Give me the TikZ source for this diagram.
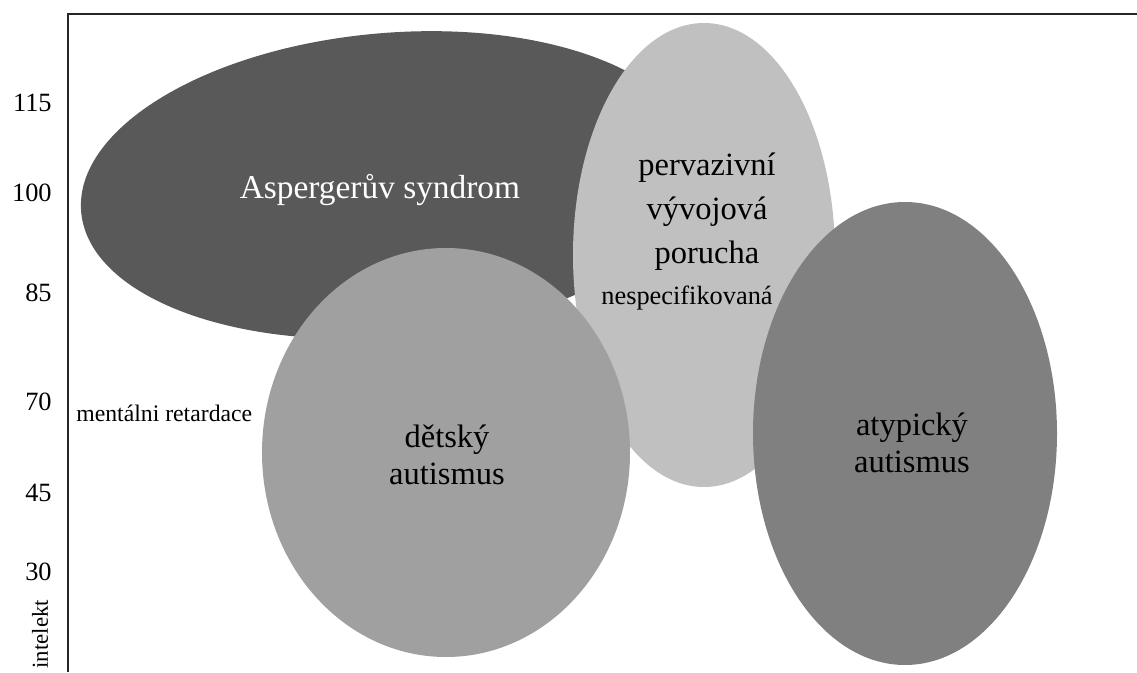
\documentclass[tikz,border=0pt]{standalone}
\usepackage{xcolor}
\usepackage{fontspec}
\setmainfont{Liberation Serif}
\usepackage{tikz}
\usetikzlibrary{positioning, shapes.geometric}
\definecolor{asp gray}{HTML}{595959}
\definecolor{pdd gray}{HTML}{C0C0C0}
\definecolor{det gray}{HTML}{A0A0A0}
\definecolor{aty gray}{HTML}{808080}
\tikzset{
blob/.style = { ellipse, draw = none, inner sep = 0pt, outer sep = 0pt },
big label/.style = { black, align = center, font = \fontsize{18.5}{21}\selectfont },
small label/.style = { black, font = \fontsize{13.5}{16}\selectfont },
axis label/.style = { black, anchor = east, inner sep = 0pt, font = \fontsize{15}{18}\selectfont },
}

\begin{document}
\begin{tikzpicture}
    \useasboundingbox (0, 0) rectangle (22.74, 13.44);
    \coordinate (frame top) at (1.36, 13.16);
    \coordinate (frame right) at (22.74, 13.16);
    \coordinate (frame bottom) at (1.36, 0.0);
    \path[draw = black!85, line width = 1pt] (frame right) -- (frame top) -- (frame bottom);
    % the four groups
    \node[blob, fill = asp gray, minimum width = 124mm, minimum height = 60.8mm, rotate = 5] (asperger) at (7.8, 9.74) {};
    \node[blob, fill = pdd gray, minimum width = 52.4mm, minimum height = 92.8mm] (pdd) at (14.08, 8.34) {};
    \node[blob, fill = det gray, minimum width = 73.6mm, minimum height = 81.8mm] (detsky) at (8.92, 4.39) {};
    \node[blob, fill = aty gray, minimum width = 60.8mm, minimum height = 92.6mm] (atypicky) at (18.1, 4.77) {};
    \node[big label, white, font = \fontsize{19}{21}\selectfont] (asp text) at (7.6, 9.64) {Aspergerův syndrom};
    \node[big label, font = \fontsize{18.5}{25}\selectfont] (pdd text) at (14.14, 9.2) {pervazivní\\vývojová\\porucha};
    \node[small label, font = \fontsize{15}{17}\selectfont] (nesp text) at (13.74, 7.48) {nespecifikovaná};
    \node[big label] (det text) at (8.94, 4.34) {dětský\\autismus};
    \node[big label] (aty text) at (18.24, 4.58) {atypický\\autismus};
    % axis
    \foreach \val/\y in {115/11.38, 100/9.58, 85/7.58, 70/5.4, 45/3.58, 30/2.0}
        \node[axis label] (iq \val) at (1.04, \y) {\val};
    \node[small label, anchor = west, inner sep = 0pt] (retard) at (1.52, 5.18) {mentálni retardace};
    \node[small label, font = \fontsize{13}{15}\selectfont, rotate = 90, anchor = east, inner sep = 0pt] (intelekt) at (0.8, 1.45) {intelekt};
\end{tikzpicture}
\end{document}
